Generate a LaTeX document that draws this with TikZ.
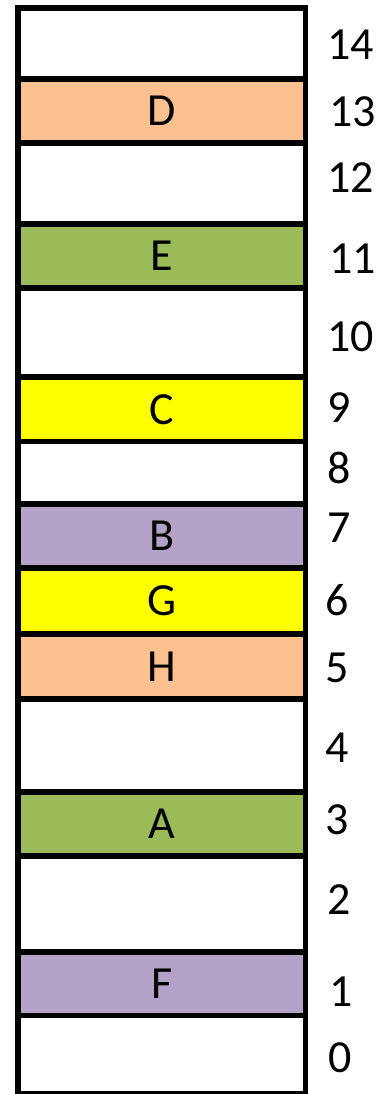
\documentclass[tikz,border=0pt]{standalone}
\usepackage{fontspec}
\setmainfont{Carlito}
\definecolor{peach}{HTML}{FAC090}
\definecolor{leaf}{HTML}{9BBB59}
\definecolor{lemon}{HTML}{FFFF00}
\definecolor{lilac}{HTML}{B3A2C7}
\begin{document}
\begin{tikzpicture}[x=1pt,y=-1pt,
  cell/.style={draw=black, line width=5.5pt, minimum width=287.5pt, inner sep=0pt, outer sep=0pt,
    font=\fontsize{46}{50}\selectfont, text=black},
  num/.style={anchor=west, inner sep=0pt, font=\fontsize{46}{50}\selectfont}]
\useasboundingbox (0,0) rectangle (386,1094);
% cells (top to bottom), x center 161.75
\node[cell, fill=white, minimum height=71pt]   (c14) at (161.75, 43.5) {};
\node[cell, fill=peach, minimum height=64pt]   (c13) at (161.75, 111) {D};
\node[cell, fill=white, minimum height=81pt]   (c12) at (161.75, 183.5) {};
\node[cell, fill=leaf, minimum height=64pt]    (c11) at (161.75, 256) {E};
\node[cell, fill=white, minimum height=89pt]   (c10) at (161.75, 332.5) {};
\node[cell, fill=lemon, minimum height=64.5pt] (c9)  at (161.75, 409.25) {C};
\node[cell, fill=white, minimum height=62.5pt] (c8)  at (161.75, 472.75) {};
\node[cell, fill=lilac, minimum height=64pt]   (c7)  at (161.75, 536) {B};
\node[cell, fill=lemon, minimum height=66pt]   (c6)  at (161.75, 601) {G};
\node[cell, fill=peach, minimum height=65pt]   (c5)  at (161.75, 666.5) {H};
\node[cell, fill=white, minimum height=93pt]   (c4)  at (161.75, 745.5) {};
\node[cell, fill=leaf, minimum height=64pt]    (c3)  at (161.75, 824) {A};
\node[cell, fill=white, minimum height=96pt]   (c2)  at (161.75, 904) {};
\node[cell, fill=lilac, minimum height=63.5pt] (c1)  at (161.75, 983.75) {F};
\node[cell, fill=white, minimum height=78.5pt] (c0)  at (161.75, 1054.75) {};
% numbers
\node[num] (n14) at (327, 45) {14};
\node[num] (n13) at (329, 112) {13};
\node[num] (n12) at (327, 178) {12};
\node[num] (n11) at (329, 259) {11};
\node[num] (n10) at (327, 337) {10};
\node[num] (n9)  at (327, 408) {9};
\node[num] (n8)  at (327, 468) {8};
\node[num] (n7)  at (327, 528) {7};
\node[num] (n6)  at (325, 600) {6};
\node[num] (n5)  at (325, 668) {5};
\node[num] (n4)  at (325, 748) {4};
\node[num] (n3)  at (325, 820) {3};
\node[num] (n2)  at (327, 900) {2};
\node[num] (n1)  at (329, 992) {1};
\node[num] (n0)  at (328, 1058) {0};
\end{tikzpicture}
\end{document}
